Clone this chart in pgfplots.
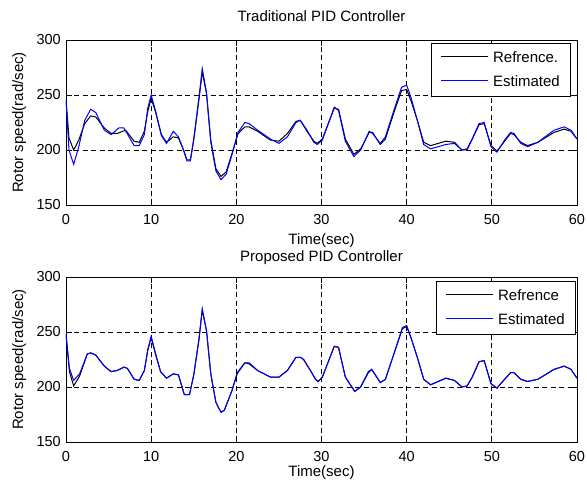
\documentclass[border=0pt]{standalone}
\usepackage{fontspec}
\setmainfont{Liberation Sans}
\usepackage{pgfplots}
\pgfplotsset{compat=1.18}

% legend keys are typeset as coloured rules inside the entry text
\newcommand\legkey[1]{\textcolor{#1}{\rule[5.3pt]{47pt}{1pt}}\hspace{5pt}}

\pgfplotsset{
  rotorax/.style={
    scale only axis, width=511pt, height=165pt,
    xmin=0, xmax=60, ymin=150, ymax=300,
    xtick={0,10,...,60}, ytick={150,200,250,300},
    tick align=inside, tick pos=both, major tick length=6pt,
    tick style={black, line width=0.8pt},
    axis line style={black, line width=0.9pt},
    grid=major,
    major grid style={black, line width=0.8pt, dash pattern=on 5pt off 3.5pt},
    ticklabel style={font=\fontsize{14.5}{17}\selectfont},
    /pgf/number format/assume math mode=true,
    xticklabel style={anchor=base, yshift=-19.5pt, inner sep=0pt},
    yticklabel style={anchor=east, inner sep=0pt, xshift=-5pt},
    label style={font=\fontsize{15}{18}\selectfont},
    xlabel={Time(sec)},
    ylabel={Rotor speed(rad/sec)},
    ylabel style={at={(axis description cs:-0.0841,0.5)}, anchor=base, inner sep=0pt},
    title style={anchor=base, inner sep=0pt, font=\fontsize{15}{18}\selectfont},
    legend cell align=left,
    legend image code/.code={},
    legend style={anchor=north east,
      inner xsep=10pt, inner ysep=8pt, row sep=12pt, column sep=0pt,
      font=\fontsize{15}{18}\selectfont, nodes={inner sep=0pt}},
  },
}

\begin{document}
\begin{tikzpicture}
\useasboundingbox (-66pt,-276pt) rectangle (521pt,205pt);

% Traditional PID
\begin{axis}[rotorax,
  title={Traditional PID Controller},
  title style={at={(axis description cs:0.5,1.077)}},
  xlabel style={at={(axis description cs:0.5,-0.2424)}, anchor=base, inner sep=0pt},
  legend style={at={(0.9863,0.9818)}},
  ]
\addplot[black, line width=1pt] coordinates {
(0,246) (0.35,211) (0.9,200) (1.5,209) (2.2,224) (2.9,231) (3.5,230) (4.5,220)
(5.3,215) (6,215) (7,218) (8,208) (8.6,207) (9.2,217) (9.6,235) (10,247)
(10.5,235) (11.2,214) (11.8,207) (12.6,212) (13.2,211) (13.8,200) (14.2,191)
(14.6,191) (15,209) (15.6,245) (16,271) (16.5,251) (17,209) (17.6,183) (18.2,176)
(18.8,180) (19.5,197) (20.2,215) (21,221) (21.5,221) (22.5,217) (24,209) (25,208)
(26,215) (27,226) (27.5,227) (28.3,217) (29.1,208) (29.5,206) (30.1,210) (31.5,238)
(32,237) (32.8,210) (33.8,196) (34.6,201) (35.6,216) (36,216) (36.9,205) (37.5,210)
(38.5,234) (39.4,254) (40,255) (40.5,245) (41.25,227) (42,207) (42.8,204) (44.6,208)
(45.6,207) (46.5,200) (47.1,201) (47.7,210) (48.5,223) (49.1,224) (49.9,204)
(50.6,199) (51.5,208) (52.2,215) (52.6,214) (53.4,207) (54.2,204) (55.4,207)
(57.3,216) (58.5,219) (59.3,217) (60,210)
};
\addlegendentry{\legkey{black}Refrence.}
\addplot[blue, line width=1pt] coordinates {
(0,246) (0.35,200) (0.9,187) (1.5,203) (2.2,227) (2.9,237) (3.5,234) (4.5,218)
(5.3,214) (6.2,220) (6.8,220) (8,204) (8.6,204) (9.2,214) (9.6,238) (10,250)
(10.5,236) (11.2,213) (11.8,206) (12.6,217) (13.2,212) (13.8,200) (14.2,190)
(14.6,190) (15,210) (15.6,247) (16,274) (16.5,252) (17,207) (17.6,181) (18.2,173)
(18.8,178) (19.5,196) (20.2,216) (21,225) (21.5,224) (22.5,218) (24,210) (25,206)
(26,212) (27,225) (27.5,227) (28.3,218) (29.1,207) (29.5,205) (30.1,209) (31.5,239)
(32,236) (32.8,208) (33.8,194) (34.6,200) (35.6,217) (36,215) (36.9,206) (37.5,212)
(38.5,236) (39.4,257) (40,259) (40.5,248) (41.25,227) (42,205) (42.8,201) (44.6,205)
(45.6,206) (46.5,200) (47.1,200) (47.7,210) (48.5,224) (49.1,225) (49.9,203)
(50.6,198) (51.5,209) (52.2,216) (52.6,215) (53.4,206) (54.2,203) (55.4,207)
(57.3,218) (58.5,221) (59.3,218) (60,210)
};
\addlegendentry{\legkey{blue}Estimated\hspace{2pt}}
\end{axis}

% Proposed PID
\begin{axis}[rotorax, at={(0pt,-237pt)},
  title={Proposed PID Controller},
  title style={at={(axis description cs:0.5,1.0606)}},
  xlabel style={at={(axis description cs:0.5,-0.212)}, anchor=base, inner sep=0pt},
  legend style={at={(0.9961,0.9758)}},
  ]
\addplot[black, line width=1pt] coordinates {
(0,248) (0.4,214) (0.9,201) (1.6,210) (2.5,230) (2.9,231) (3.5,229) (4.5,219)
(5.3,214) (6,215) (6.8,218) (7.2,217) (8,207) (8.6,206) (9.2,215) (9.6,233)
(10,245) (10.5,230) (11.1,214) (11.8,208) (12.6,212) (13.2,211) (13.9,193)
(14.5,193) (15,211) (15.6,242) (16,270) (16.5,251) (17,212) (17.6,186) (18.2,177)
(18.6,179) (19.5,197) (20.1,212) (21,222) (21.5,221) (22.5,215) (24,209) (25,209)
(26,215) (27,227) (27.5,227) (27.9,225) (28.7,215) (29.3,207) (29.6,205) (30.1,209)
(31.5,237) (32,236) (32.8,209) (33.9,196) (34.6,200) (35.5,213) (35.9,216)
(36.9,204) (37.5,207) (38.5,230) (39.5,253) (40,255) (40.5,245) (41.25,227) (42,207)
(42.8,202) (44.6,208) (45.6,206) (46.5,200) (47.1,201) (47.7,209) (48.5,223)
(49.1,224) (49.9,203) (50.6,199) (51.5,207) (52.2,213) (52.6,213) (53.4,207)
(54.2,205) (55.4,207) (57.3,216) (58.5,219) (59.3,216) (60,208)
};
\addlegendentry{\legkey{black}Refrence}
\addplot[blue, line width=1pt] coordinates {
(0,248) (0.4,217) (0.9,206) (1.6,212) (2.5,230) (2.9,231) (3.5,229) (4.5,219)
(5.3,214) (6,215) (6.8,218) (7.2,217) (8,207) (8.6,206) (9.2,215) (9.6,234)
(10,246) (10.5,231) (11.1,214) (11.8,208) (12.6,212) (13.2,211) (13.9,193)
(14.5,193) (15,211) (15.6,243) (16,271) (16.5,251) (17,212) (17.6,186) (18.2,177)
(18.6,179) (19.5,197) (20.1,213) (21,222) (21.5,222) (22.5,215) (24,209) (25,209)
(26,215) (27,227) (27.5,227) (27.9,225) (28.7,215) (29.3,207) (29.6,205) (30.1,209)
(31.5,237) (32,236) (32.8,209) (33.9,196) (34.6,200) (35.5,214) (35.9,216)
(36.9,204) (37.5,207) (38.5,230) (39.5,254) (40,256) (40.5,245) (41.25,227) (42,207)
(42.8,202) (44.6,208) (45.6,206) (46.5,200) (47.1,201) (47.7,209) (48.5,223)
(49.1,224) (49.9,203) (50.6,199) (51.5,207) (52.2,213) (52.6,213) (53.4,207)
(54.2,205) (55.4,207) (57.3,216) (58.5,219) (59.3,216) (60,208)
};
\addlegendentry{\legkey{blue}Estimated\hspace{7pt}}
\end{axis}
\end{tikzpicture}
\end{document}
